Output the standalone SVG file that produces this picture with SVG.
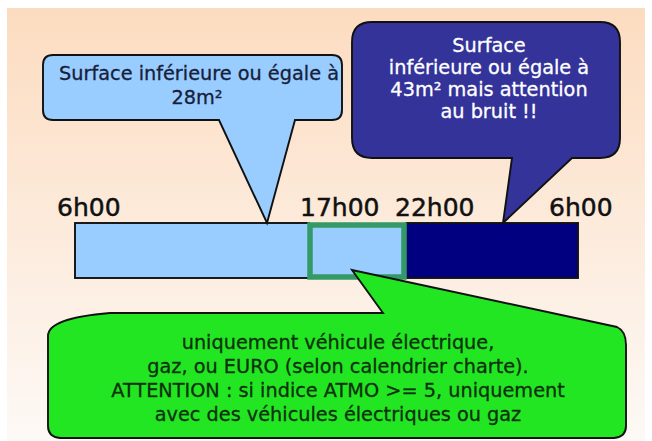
<svg xmlns="http://www.w3.org/2000/svg" width="652" height="441" viewBox="0 0 652 441">
<defs>
<linearGradient id="bg" x1="0" y1="0" x2="0" y2="1">
<stop offset="0" stop-color="#fcdcc0"/>
<stop offset="1" stop-color="#fdf9f6"/>
</linearGradient>
<style>
.lbl{font-family:"DejaVu Sans",sans-serif;font-size:25px;fill:#111;stroke:#111;stroke-width:0.5}
.t{font-family:"DejaVu Sans",sans-serif;font-size:19.3px;text-anchor:middle;stroke-width:0.3}
.edge{stroke:#111;stroke-width:1.9;stroke-linejoin:miter}
.dark{fill:#15203a;stroke:#15203a}
.white{fill:#ffffff;stroke:#ffffff}
.green{fill:#0d300d;stroke:#0d300d}
</style>
</defs>
<rect width="652" height="441" fill="#ffffff"/>
<rect x="7" y="8" width="638" height="433" fill="url(#bg)"/>

<g id="timeline">
<rect x="75" y="223" width="234" height="55" fill="#99ccff" class="edge"/>
<rect x="406" y="223" width="172" height="55" fill="#000080" class="edge"/>
<rect x="310" y="225" width="94" height="52" fill="#99ccff" stroke="#339966" stroke-width="5.5"/>
</g>

<g id="labels">
<text class="lbl" x="57" y="216">6h00</text>
<text class="lbl" x="300" y="216">17h00</text>
<text class="lbl" x="395" y="216">22h00</text>
<text class="lbl" x="549" y="216">6h00</text>
</g>

<g id="bubble-day">
<path class="edge" fill="#99ccff" d="M53,55 L332,55 Q342,55 342,65 L342,110 Q342,120 332,120 L295,120 L267,223 L219,120 L53,120 Q43,120 43,110 L43,65 Q43,55 53,55 Z"/>
<text class="t dark" x="199" y="80">Surface inférieure ou égale à</text>
<text class="t dark" x="197" y="104">28m²</text>
</g>

<g id="bubble-night">
<path class="edge" fill="#333399" d="M372,22 L600,22 Q620,22 620,42 L620,138 Q620,158 600,158 L572,158 L503,223 L512,158 L372,158 Q352,158 352,138 L352,42 Q352,22 372,22 Z"/>
<text class="t white" x="489" y="52">Surface</text>
<text class="t white" x="489" y="74">inférieure ou égale à</text>
<text class="t white" x="489" y="96">43m² mais attention</text>
<text class="t white" x="489" y="118">au bruit !!</text>
</g>

<g id="bubble-evening">
<path class="edge" fill="#22e622" d="M110,313 L383,313 L352,270 L617,327 Q626,331 626,345 L626,426 Q626,437 614,438 L60,438 Q48,437 48,426 L48,336 Q48,318 110,313 Z"/>
<text class="t green" x="338" y="349">uniquement véhicule électrique,</text>
<text class="t green" x="338" y="373">gaz, ou EURO (selon calendrier charte).</text>
<text class="t green" x="338" y="397">ATTENTION : si indice ATMO &gt;= 5, uniquement</text>
<text class="t green" x="338" y="421">avec des véhicules électriques ou gaz</text>
</g>
</svg>
